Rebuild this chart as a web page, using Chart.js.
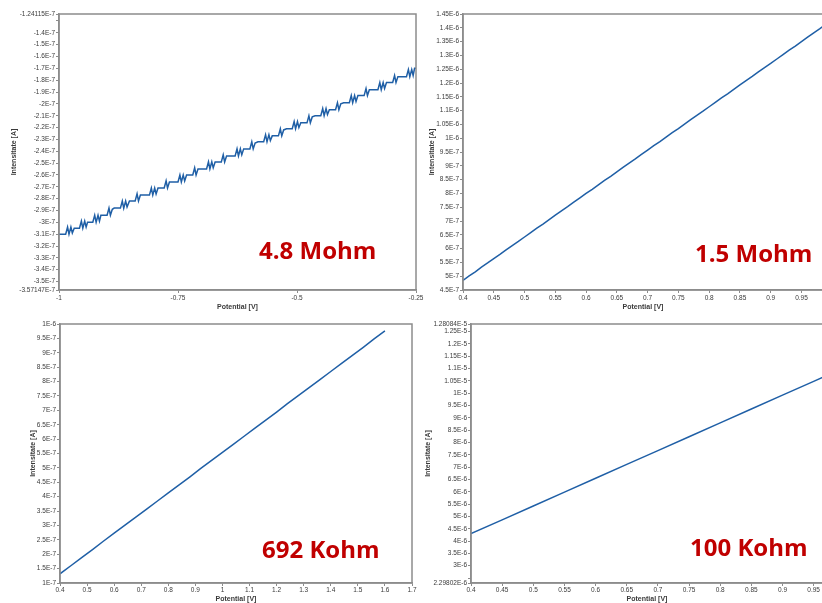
<!DOCTYPE html>
<html>
<head>
<meta charset="utf-8">
<script src="https://cdn.jsdelivr.net/npm/chart.js@4"></script>
<style>
body { margin: 0; background: #fff; overflow: hidden; }
#wrap { position: relative; width: 822px; height: 603px; overflow: hidden; }
canvas { position: absolute; }
</style>
</head>
<body>
<div id="wrap">
<canvas id="c1" width="430" height="312" style="left:0;top:0"></canvas>
<canvas id="c2" width="404" height="312" style="left:420px;top:0"></canvas>
<canvas id="c3" width="420" height="291" style="left:0;top:312px"></canvas>
<canvas id="c4" width="404" height="291" style="left:420px;top:312px"></canvas>
</div>
<script>
// current values are in nA, potential in V

// 4.8 Mohm
const p1Curve = [
  [-1.000,-310],[-0.986,-310],[-0.982,-304],[-0.979,-310],[-0.975,-304],[-0.972,-309],
  [-0.968,-305],[-0.957,-305],[-0.953,-299],[-0.950,-305],[-0.946,-299],[-0.943,-304],
  [-0.940,-300],[-0.929,-300],[-0.925,-294],[-0.922,-300],[-0.918,-294],[-0.915,-299],
  [-0.912,-294],[-0.899,-294],[-0.895,-288],[-0.892,-294],[-0.888,-289],
  [-0.884,-288],[-0.871,-288],[-0.867,-282],[-0.864,-288],[-0.860,-282],[-0.857,-287],
  [-0.852,-282],[-0.840,-282],[-0.836,-276],[-0.833,-282],[-0.829,-277],
  [-0.822,-277],[-0.810,-277],[-0.806,-271],[-0.803,-277],[-0.799,-271],[-0.796,-276],
  [-0.792,-271],[-0.779,-271],[-0.775,-265],[-0.772,-271],[-0.768,-266],
  [-0.762,-266],[-0.750,-266],[-0.746,-260],[-0.743,-266],[-0.739,-260],[-0.736,-265],
  [-0.732,-260],[-0.719,-260],[-0.715,-254],[-0.712,-260],[-0.708,-255],
  [-0.702,-255],[-0.690,-255],[-0.686,-249],[-0.683,-255],[-0.679,-249],[-0.676,-254],
  [-0.672,-249],[-0.659,-249],[-0.655,-243],[-0.652,-249],[-0.648,-244],
  [-0.642,-244],[-0.630,-244],[-0.626,-238],[-0.623,-244],[-0.619,-238],[-0.616,-243],
  [-0.612,-238],[-0.599,-238],[-0.595,-232],[-0.592,-238],[-0.588,-233],
  [-0.582,-232],[-0.570,-232],[-0.566,-226],[-0.563,-232],[-0.559,-226],[-0.556,-231],
  [-0.552,-227],[-0.539,-227],[-0.535,-221],[-0.532,-227],[-0.528,-222],
  [-0.522,-221],[-0.510,-221],[-0.506,-215],[-0.503,-221],[-0.499,-215],[-0.496,-220],
  [-0.492,-216],[-0.479,-216],[-0.475,-210],[-0.472,-216],[-0.468,-211],
  [-0.462,-210],[-0.450,-210],[-0.446,-204],[-0.443,-210],[-0.439,-204],[-0.436,-209],
  [-0.432,-205],[-0.419,-205],[-0.415,-199],[-0.412,-205],[-0.408,-200],
  [-0.402,-199],[-0.390,-199],[-0.386,-193],[-0.383,-199],[-0.379,-193],[-0.376,-198],
  [-0.372,-193],[-0.359,-193],[-0.355,-187],[-0.352,-193],[-0.348,-188],
  [-0.342,-188],[-0.330,-188],[-0.326,-182],[-0.323,-188],[-0.319,-182],[-0.316,-187],
  [-0.312,-182],[-0.299,-182],[-0.295,-176],[-0.292,-182],[-0.288,-177],
  [-0.282,-177],[-0.270,-177],[-0.266,-171],[-0.263,-177],[-0.259,-171],[-0.256,-176],
  [-0.253,-170],[-0.250,-170]
];
const p1XTicks = ['-1','-0.75','-0.5','-0.25'];
const p1YTicks = ['-1.24115E-7','-1.3E-7','-1.4E-7','-1.5E-7','-1.6E-7','-1.7E-7','-1.8E-7','-1.9E-7',
  '-2E-7','-2.1E-7','-2.2E-7','-2.3E-7','-2.4E-7','-2.5E-7','-2.6E-7','-2.7E-7','-2.8E-7','-2.9E-7',
  '-3E-7','-3.1E-7','-3.2E-7','-3.3E-7','-3.4E-7','-3.5E-7','-3.57147E-7'];
const p1YUnlabeled = ['-1.3E-7'];

// 1.5 Mohm
const p2Curve = [
  [0.40,485],[0.41,501],[0.42,516],[0.43,533],[0.44,548],[0.45,564],[0.46,579],[0.47,595],[0.48,611],[0.49,626],
  [0.50,642],[0.51,658],[0.52,674],[0.53,689],[0.54,705],[0.55,721],[0.56,737],[0.57,752],[0.58,768],[0.59,784],
  [0.60,800],[0.61,815],[0.62,831],[0.63,847],[0.64,862],[0.65,878],[0.66,894],[0.67,910],[0.68,925],[0.69,941],
  [0.70,957],[0.71,973],[0.72,988],[0.73,1004],[0.74,1020],[0.75,1035],[0.76,1051],[0.77,1067],[0.78,1083],[0.79,1098],
  [0.80,1114],[0.81,1130],[0.82,1146],[0.83,1161],[0.84,1177],[0.85,1193],[0.86,1209],[0.87,1224],[0.88,1240],[0.89,1256],
  [0.90,1271],[0.91,1287],[0.92,1303],[0.93,1319],[0.94,1334],[0.95,1350],[0.96,1366],[0.97,1382],[0.98,1397],[0.985,1405]
];
const p2XRange = [0.4, 0.985];
const p2XTicks = ['0.4','0.45','0.5','0.55','0.6','0.65','0.7','0.75','0.8','0.85','0.9','0.95'];
const p2YTicks = ['4.5E-7','5E-7','5.5E-7','6E-7','6.5E-7','7E-7','7.5E-7','8E-7','8.5E-7','9E-7','9.5E-7',
  '1E-6','1.05E-6','1.1E-6','1.15E-6','1.2E-6','1.25E-6','1.3E-6','1.35E-6','1.4E-6','1.45E-6'];

// 692 Kohm
const p3Curve = [
  [0.40,132],[0.44,160],[0.48,188],[0.52,216],[0.56,245],[0.60,273],[0.64,301],[0.68,329],
  [0.72,357],[0.76,385],[0.80,413],[0.84,441],[0.88,469],[0.92,498],[0.96,526],[1.00,554],
  [1.04,582],[1.08,610],[1.12,638],[1.16,666],[1.20,694],[1.24,723],[1.28,751],[1.32,779],
  [1.36,807],[1.40,835],[1.44,863],[1.48,891],[1.52,919],[1.56,948],[1.60,976]
];
const p3XTicks = ['0.4','0.5','0.6','0.7','0.8','0.9','1','1.1','1.2','1.3','1.4','1.5','1.6','1.7'];
const p3YTicks = ['1E-7','1.5E-7','2E-7','2.5E-7','3E-7','3.5E-7','4E-7','4.5E-7','5E-7','5.5E-7','6E-7',
  '6.5E-7','7E-7','7.5E-7','8E-7','8.5E-7','9E-7','9.5E-7','1E-6'];

// 100 Kohm
const p4Curve = [
  [0.40,4300],[0.45,4860],[0.50,5425],[0.55,5985],[0.60,6550],[0.65,7110],[0.70,7670],
  [0.75,8235],[0.80,8795],[0.85,9360],[0.90,9920],[0.95,10480],[0.965,10650]
];
const p4XRange = [0.4, 0.965];
const p4XTicks = ['0.4','0.45','0.5','0.55','0.6','0.65','0.7','0.75','0.8','0.85','0.9','0.95'];
const p4YTicks = ['2.29802E-6','2.5E-6','3E-6','3.5E-6','4E-6','4.5E-6','5E-6','5.5E-6','6E-6','6.5E-6',
  '7E-6','7.5E-6','8E-6','8.5E-6','9E-6','9.5E-6','1E-5','1.05E-5','1.1E-5','1.15E-5','1.2E-5','1.25E-5','1.28084E-5'];
const p4YUnlabeled = ['2.5E-6'];

const lineColor = '#1f5fa6';
const axisColor = '#8c8c8c';
const textColor = '#3a3a3a';
Chart.defaults.font.family = '"Liberation Sans", Arial, sans-serif';

// frame round the plot area + the resistance label
const framePlugin = {
  id: 'frame',
  afterDraw(chart, args, opts) {
    const ctx = chart.ctx;
    const a = chart.chartArea;
    ctx.save();
    ctx.strokeStyle = axisColor;
    ctx.lineWidth = 1.5;
    ctx.strokeRect(a.left, a.top, a.right - a.left, a.bottom - a.top);
    ctx.font = 'bold 24px "Open Sans"';
    ctx.fillStyle = '#c00000';
    ctx.textBaseline = 'alphabetic';
    ctx.fillText(opts.text, opts.x, opts.y);
    ctx.restore();
  }
};

function axis(labels, unlabeled, range, title, horizontal, size, tickPad, titlePad) {
  const values = labels.map(Number);
  return {
    type: 'linear',
    min: range ? range[0] : values[0],
    max: range ? range[1] : values[values.length - 1],
    afterBuildTicks: s => { s.ticks = values.map(v => ({ value: v })); },
    afterFit: s => {
      if (horizontal) s.height = size; else s.width = size;
      s.paddingLeft = 0; s.paddingRight = 0; s.paddingTop = 0; s.paddingBottom = 0;
    },
    ticks: {
      autoSkip: false,
      maxRotation: 0,
      padding: tickPad,
      color: textColor,
      font: { size: 6.5 },
      callback: (v, i) => unlabeled.includes(labels[i]) ? '' : labels[i]
    },
    grid: { drawOnChartArea: false, tickLength: 3, color: axisColor, lineWidth: 1 },
    border: { color: axisColor, width: 1.5 },
    title: {
      display: true,
      text: title,
      color: textColor,
      font: { size: 7, weight: 'bold' },
      padding: horizontal ? { top: 0, bottom: titlePad } : { top: titlePad, bottom: 0 }
    }
  };
}

function makeChart(id, curve, xAxis, yAxis, pad, label) {
  return new Chart(document.getElementById(id), {
    type: 'line',
    data: {
      datasets: [{
        data: curve.map(p => ({ x: p[0], y: p[1] * 1e-9 })),
        borderColor: lineColor,
        borderWidth: 1.5,
        pointRadius: 0,
        tension: 0
      }]
    },
    options: {
      responsive: false,
      animation: false,
      events: [],
      layout: { padding: pad },
      plugins: { legend: { display: false }, tooltip: { enabled: false }, frame: label },
      scales: { x: xAxis, y: yAxis }
    },
    plugins: [framePlugin]
  });
}

makeChart('c1', p1Curve,
  axis(p1XTicks, [], null, 'Potential [V]', true, 22, 1, 1),
  axis(p1YTicks, p1YUnlabeled, null, 'Intensitate [A]', false, 59, 1, 9.8),
  { left: 0, top: 14, right: 14, bottom: 0 },
  { text: '4.8 Mohm', x: 259, y: 259 });

makeChart('c2', p2Curve,
  axis(p2XTicks, [], p2XRange, 'Potential [V]', true, 22, 1, 1),
  axis(p2YTicks, [], null, 'Intensitate [A]', false, 43, 1, 7.8),
  { left: 0, top: 14, right: 1, bottom: 0 },
  { text: '1.5 Mohm', x: 275, y: 262 });

makeChart('c3', p3Curve,
  axis(p3XTicks, [], null, 'Potential [V]', true, 20, 0, 0),
  axis(p3YTicks, [], null, 'Intensitate [A]', false, 60, 1, 28.8),
  { left: 0, top: 12, right: 8, bottom: 0 },
  { text: '692 Kohm', x: 262, y: 246 });

makeChart('c4', p4Curve,
  axis(p4XTicks, [], p4XRange, 'Potential [V]', true, 20, 0, 0),
  axis(p4YTicks, p4YUnlabeled, null, 'Intensitate [A]', false, 51, 1, 3.8),
  { left: 0, top: 12, right: 1, bottom: 0 },
  { text: '100 Kohm', x: 270, y: 244 });
</script>
</body>
</html>
